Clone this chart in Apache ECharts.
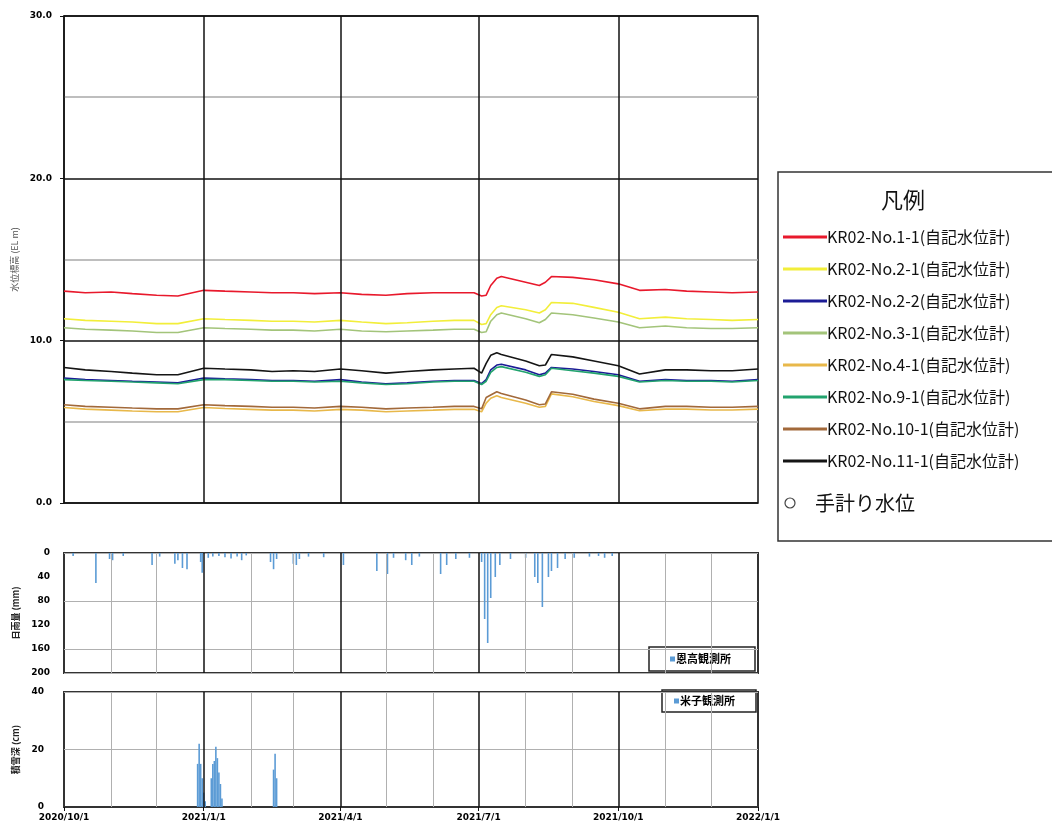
<!DOCTYPE html>
<html><head><meta charset="utf-8">
<script src="https://cdn.jsdelivr.net/npm/echarts@6/dist/echarts.min.js"></script>
<style>html,body{margin:0;padding:0;background:#fff}#c{width:1052px;height:827px}</style>
</head><body><div id="c"></div>
<script>
// ---- data ----
const dates = ['2020-10-01','2020-10-15','2020-11-01','2020-11-15','2020-12-01','2020-12-15','2021-01-01','2021-01-15','2021-02-01','2021-02-15','2021-03-01','2021-03-15','2021-04-01','2021-04-15','2021-05-01','2021-05-15','2021-06-01','2021-06-15','2021-06-28','2021-07-03','2021-07-06','2021-07-09','2021-07-13','2021-07-16','2021-08-01','2021-08-10','2021-08-14','2021-08-18','2021-09-01','2021-09-15','2021-10-01','2021-10-15','2021-11-01','2021-11-15','2021-12-01','2021-12-15','2022-01-01'];
const no1_1  = [13.05,12.95,13.0,12.9,12.8,12.75,13.1,13.05,13.0,12.95,12.95,12.9,12.95,12.85,12.8,12.9,12.95,12.95,12.95,12.75,12.8,13.4,13.85,13.95,13.6,13.4,13.6,13.95,13.9,13.75,13.5,13.1,13.15,13.05,13.0,12.95,13.0];
const no2_1  = [11.35,11.25,11.2,11.15,11.05,11.05,11.35,11.3,11.25,11.2,11.2,11.15,11.25,11.15,11.05,11.1,11.2,11.25,11.25,11.0,11.05,11.6,12.05,12.15,11.9,11.7,11.9,12.35,12.3,12.05,11.75,11.35,11.45,11.35,11.3,11.25,11.3];
const no2_2  = [7.7,7.6,7.55,7.5,7.45,7.4,7.7,7.65,7.6,7.55,7.55,7.5,7.6,7.45,7.35,7.4,7.5,7.55,7.55,7.35,7.6,8.2,8.5,8.55,8.2,7.9,8.0,8.35,8.25,8.1,7.9,7.5,7.6,7.55,7.55,7.5,7.6];
const no3_1  = [10.8,10.7,10.65,10.6,10.5,10.5,10.8,10.75,10.7,10.65,10.65,10.6,10.7,10.6,10.55,10.6,10.65,10.7,10.7,10.5,10.55,11.2,11.6,11.7,11.35,11.1,11.3,11.7,11.6,11.4,11.15,10.8,10.9,10.8,10.75,10.75,10.8];
const no4_1  = [5.88,5.78,5.72,5.67,5.62,5.62,5.88,5.82,5.77,5.72,5.72,5.67,5.77,5.72,5.62,5.67,5.72,5.77,5.77,5.62,6.15,6.45,6.6,6.5,6.15,5.9,5.95,6.72,6.55,6.25,6.0,5.68,5.78,5.78,5.73,5.73,5.78];
const no9_1  = [7.6,7.55,7.5,7.45,7.4,7.35,7.6,7.6,7.55,7.5,7.5,7.45,7.5,7.4,7.3,7.35,7.45,7.5,7.5,7.3,7.5,8.05,8.35,8.4,8.05,7.8,7.9,8.3,8.15,8.0,7.8,7.45,7.55,7.5,7.5,7.45,7.55];
const no10_1 = [6.05,5.95,5.9,5.85,5.8,5.8,6.05,6.0,5.95,5.9,5.9,5.85,5.95,5.9,5.8,5.85,5.9,5.95,5.95,5.8,6.5,6.65,6.85,6.75,6.35,6.05,6.1,6.85,6.7,6.4,6.15,5.8,5.95,5.95,5.9,5.9,5.95];
const no11_1 = [8.35,8.2,8.1,8.0,7.9,7.9,8.3,8.25,8.2,8.1,8.15,8.1,8.25,8.15,8.0,8.1,8.2,8.25,8.3,8.0,8.6,9.1,9.25,9.15,8.75,8.45,8.5,9.15,9.0,8.75,8.45,7.95,8.2,8.2,8.15,8.15,8.25];

const rainDates = ['2020-10-07','2020-10-22','2020-10-31','2020-11-02','2020-11-09','2020-11-28','2020-12-03','2020-12-13','2020-12-15','2020-12-18','2020-12-21','2020-12-30','2020-12-31','2021-01-04','2021-01-07','2021-01-11','2021-01-15','2021-01-19','2021-01-23','2021-01-26','2021-01-29','2021-02-14','2021-02-16','2021-02-18','2021-03-01','2021-03-03','2021-03-05','2021-03-11','2021-03-21','2021-04-03','2021-04-25','2021-05-02','2021-05-06','2021-05-14','2021-05-18','2021-05-23','2021-06-06','2021-06-10','2021-06-16','2021-06-25','2021-07-03','2021-07-05','2021-07-07','2021-07-09','2021-07-12','2021-07-15','2021-07-22','2021-08-01','2021-08-07','2021-08-09','2021-08-12','2021-08-16','2021-08-18','2021-08-22','2021-08-27','2021-09-02','2021-09-12','2021-09-18','2021-09-22','2021-09-27'];
const rainValues = [5,50,10,12,5,20,6,18,12,25,27,15,33,8,6,5,7,9,6,12,4,15,27,10,18,20,10,6,7,20,30,35,8,12,20,6,35,20,10,8,15,110,150,75,40,20,10,8,40,50,90,40,30,25,10,8,6,5,8,5];

const snowDates = ['2020-12-28','2020-12-29','2020-12-30','2020-12-31','2021-01-01','2021-01-02','2021-01-06','2021-01-07','2021-01-08','2021-01-09','2021-01-10','2021-01-11','2021-01-12','2021-01-13','2021-02-16','2021-02-17','2021-02-18'];
const snowValues = [15,22,15,10,5,2,10,15,16,21,17,12,8,3,13,18.5,10];

const quarterTicks = ['2020-10-01','2021-01-01','2021-04-01','2021-07-01','2021-10-01','2022-01-01'];
const monthLines = ['2020-11-01','2020-12-01','2021-02-01','2021-03-01','2021-05-01','2021-06-01','2021-08-01','2021-09-01','2021-11-01','2021-12-01'];

// ---- helpers ----
function t(s){const p=s.split('-');return Date.UTC(+p[0],+p[1]-1,+p[2]);}
function fmtDate(v){const d=new Date(v);return d.getUTCFullYear()+'/'+(d.getUTCMonth()+1)+'/'+d.getUTCDate();}
const pair=(arr)=>dates.map((d,i)=>[t(d),arr[i]]);

const names = ['KR02-No.1-1(自記水位計)','KR02-No.2-1(自記水位計)','KR02-No.2-2(自記水位計)','KR02-No.3-1(自記水位計)','KR02-No.4-1(自記水位計)','KR02-No.9-1(自記水位計)','KR02-No.10-1(自記水位計)','KR02-No.11-1(自記水位計)'];
const colors = ['#e8192c','#f2ee3a','#1c1c96','#a3c47a','#e8b84a','#22a36e','#a2693a','#151515'];
const seriesData = [no1_1,no2_1,no2_2,no3_1,no4_1,no9_1,no10_1,no11_1];

const xMin=t('2020-10-01'), xMax=t('2022-01-01');
const qLines = quarterTicks.slice(1,-1).map(d=>({xAxis:t(d)}));
const mLines = monthLines.map(d=>({xAxis:t(d)}));
const lblFont = {fontFamily:'DejaVu Sans',fontWeight:'bold',fontSize:9,color:'#000'};

function vlines(gridIdx, yIdx, withMonth){
  const data=[];
  if(withMonth) mLines.forEach(m=>data.push(Object.assign({lineStyle:{color:'#b0b0b0',width:1,type:'solid'}},m)));
  qLines.forEach(q=>data.push(Object.assign({lineStyle:{color:'#111',width:1.5,type:'solid'}},q)));
  return {type:'line',xAxisIndex:gridIdx,yAxisIndex:yIdx,data:[[xMin,null]],silent:true,symbol:'none',
    markLine:{symbol:'none',silent:true,label:{show:false},animation:false,data:data},z:1};
}

const series=[vlines(0,0,false),vlines(1,2,true),vlines(2,4,true)];
names.forEach((n,i)=>series.push({name:n,type:'line',xAxisIndex:0,yAxisIndex:0,data:pair(seriesData[i]),
  symbol:'none',lineStyle:{color:colors[i],width:1.6},itemStyle:{color:colors[i]},z:3,animation:false}));
series.push({name:'恩高観測所',type:'bar',xAxisIndex:1,yAxisIndex:2,barWidth:1.6,
  data:rainDates.map((d,i)=>[t(d),rainValues[i]]),itemStyle:{color:'#5b9bd5'},z:3,animation:false});
series.push({name:'米子観測所',type:'bar',xAxisIndex:2,yAxisIndex:4,barWidth:1.6,
  data:snowDates.map((d,i)=>[t(d),snowValues[i]]),itemStyle:{color:'#5b9bd5'},z:3,animation:false});

const chart = echarts.init(document.getElementById('c'),null,{renderer:'canvas'});
const xBase = {type:'value',min:xMin,max:xMax,splitLine:{show:false},axisLine:{show:false},axisTick:{show:false},axisLabel:{show:false}};
chart.setOption({
  animation:false,
  backgroundColor:'#fff',
  grid:[
    {left:64,top:16,width:694,height:487,show:true,borderColor:'#111',borderWidth:1.5,backgroundColor:'transparent'},
    {left:64,top:553,width:694,height:120,show:true,borderColor:'#333',borderWidth:2,backgroundColor:'transparent'},
    {left:64,top:692,width:694,height:115,show:true,borderColor:'#333',borderWidth:2,backgroundColor:'transparent'}
  ],
  xAxis:[
    Object.assign({gridIndex:0},xBase),
    Object.assign({gridIndex:1},xBase),
    {gridIndex:2,type:'value',min:xMin,max:xMax,splitLine:{show:false},
     axisLine:{show:true,lineStyle:{color:'#333',width:2}},
     axisTick:{show:true,customValues:quarterTicks.map(t),length:4,lineStyle:{color:'#111'}},
     axisLabel:Object.assign({show:true,customValues:quarterTicks.map(t),formatter:(v)=>fmtDate(v),margin:6,hideOverlap:false,showMinLabel:true,showMaxLabel:true},lblFont)}
  ],
  yAxis:[
    {gridIndex:0,type:'value',min:0,max:30,interval:10,splitLine:{show:false},
     axisLine:{show:true,lineStyle:{color:'#111',width:1.5}},axisTick:{show:true,length:4,lineStyle:{color:'#111'}},
     axisLabel:Object.assign({formatter:(v)=>v.toFixed(1),margin:12},lblFont),
     name:'水位標高 (EL m)',nameLocation:'middle',nameGap:32,nameTextStyle:{fontSize:9,color:'#555',fontFamily:'Noto Sans CJK JP'}},
    {gridIndex:0,type:'value',min:0,max:30,interval:5,axisLine:{show:false},axisTick:{show:false},axisLabel:{show:false},
     splitLine:{show:true,lineStyle:{color:['#111','#a8a8a8'],width:1.5}}},
    {gridIndex:1,type:'value',min:0,max:200,interval:40,inverse:true,splitLine:{show:false},
     axisLine:{show:false},axisTick:{show:false},
     axisLabel:Object.assign({margin:14},lblFont),
     name:'日雨量 (mm)',nameLocation:'middle',nameGap:38,nameTextStyle:{fontSize:9,fontWeight:'bold',color:'#222',fontFamily:'Noto Sans CJK JP'}},
    {gridIndex:1,type:'value',min:0,max:200,interval:80,inverse:true,axisLine:{show:false},axisTick:{show:false},axisLabel:{show:false},
     splitLine:{show:true,lineStyle:{color:'#b0b0b0',width:1}}},
    {gridIndex:2,type:'value',min:0,max:40,interval:20,splitLine:{show:true,lineStyle:{color:'#b0b0b0',width:1}},
     axisLine:{show:false},axisTick:{show:false},
     axisLabel:Object.assign({margin:20},lblFont),
     name:'積雪深 (cm)',nameLocation:'middle',nameGap:38,nameTextStyle:{fontSize:9,fontWeight:'bold',color:'#222',fontFamily:'Noto Sans CJK JP'}}
  ],
  legend:[
    {data:names,orient:'vertical',left:783,top:227,padding:0,itemWidth:44,itemHeight:3,icon:'rect',itemGap:12,
     textStyle:{fontSize:16,fontFamily:'Noto Sans CJK JP',color:'#111',lineHeight:20,padding:[0,0,0,-5]},selectedMode:false},
    {data:['恩高観測所'],left:670,top:651,padding:0,itemWidth:5,itemHeight:5,icon:'rect',selectedMode:false,
     textStyle:{fontSize:11,fontWeight:'bold',fontFamily:'Noto Sans CJK JP',color:'#000',padding:[0,0,0,-4],lineHeight:16}},
    {data:['米子観測所'],left:674,top:693,padding:0,itemWidth:5,itemHeight:5,icon:'rect',selectedMode:false,
     textStyle:{fontSize:11,fontWeight:'bold',fontFamily:'Noto Sans CJK JP',color:'#000',padding:[0,0,0,-4],lineHeight:16}}
  ],
  graphic:[
    {type:'rect',shape:{x:778,y:172,width:300,height:369},style:{fill:'#fff',stroke:'#333',lineWidth:1.5},z:-1},
    {type:'text',style:{x:903,y:200,text:'凡例',font:'22px "Noto Sans CJK JP"',fill:'#111',textAlign:'center',textVerticalAlign:'middle'}},
    {type:'circle',shape:{cx:790,cy:503,r:5},style:{fill:'none',stroke:'#444',lineWidth:1.2}},
    {type:'text',style:{x:815,y:503,text:'手計り水位',font:'20px "Noto Sans CJK JP"',fill:'#111',textVerticalAlign:'middle'}},
    {type:'rect',shape:{x:649,y:647,width:106,height:24},style:{fill:'#fff',stroke:'#222',lineWidth:1.5},z:-1},
    {type:'rect',shape:{x:662,y:690,width:94,height:22},style:{fill:'#fff',stroke:'#222',lineWidth:1.5},z:-1}
  ],
  series:series
});
</script></body></html>
